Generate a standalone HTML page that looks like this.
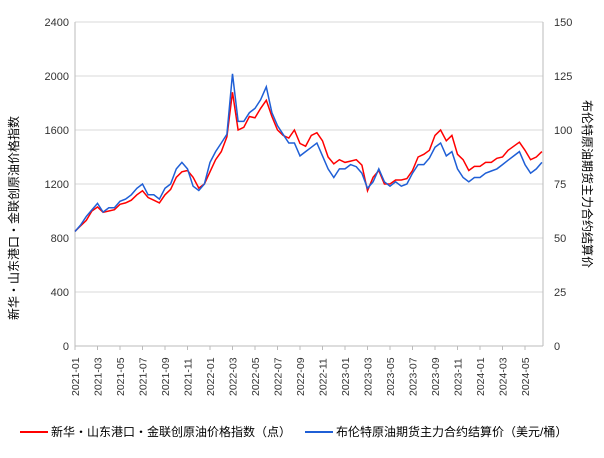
<!DOCTYPE html>
<html><head><meta charset="utf-8"><style>
body{margin:0;background:#fff;font-family:"Liberation Sans","Noto Sans CJK SC",sans-serif}
svg text{font-family:"Liberation Sans","Noto Sans CJK SC",sans-serif}
</style></head><body>
<svg id="c" width="604" height="453"></svg>
<script>
// semi-monthly points starting 2021-01
const indexValues=[850,890,930,1000,1030,990,1000,1010,1050,1060,1080,1120,1150,1100,1080,1060,1120,1160,1250,1290,1300,1250,1170,1200,1290,1380,1440,1550,1880,1600,1620,1700,1690,1760,1820,1700,1600,1560,1540,1600,1500,1480,1560,1580,1520,1400,1350,1380,1360,1370,1380,1340,1150,1250,1300,1200,1200,1230,1230,1240,1300,1400,1420,1450,1560,1600,1520,1560,1420,1380,1300,1330,1330,1360,1360,1390,1400,1450,1480,1510,1450,1380,1400,1440];
const brentValues=[53,56,60,63,66,62,64,64,67,68,70,73,75,70,70,68,73,75,82,85,82,74,72,75,85,90,94,98,126,104,104,108,110,114,120,108,102,98,94,94,88,90,92,94,88,82,78,82,82,84,83,80,73,76,82,76,74,76,74,75,80,84,84,87,92,94,88,90,82,78,76,78,78,80,81,82,84,86,88,90,84,80,82,85];
const xTicks=["2021-01","2021-03","2021-05","2021-07","2021-09","2021-11","2022-01","2022-03","2022-05","2022-07","2022-09","2022-11","2023-01","2023-03","2023-05","2023-07","2023-09","2023-11","2024-01","2024-03","2024-05"];
const leftTicks=[0,400,800,1200,1600,2000,2400];
const rightTicks=[0,25,50,75,100,125,150];
const L=75,R=543,T=22,B=346,PXM=11.25;
const svg=document.getElementById('c');const NS='http://www.w3.org/2000/svg';
function mk(t,a,p){const e=document.createElementNS(NS,t);for(const k in a)e.setAttribute(k,a[k]);(p||svg).appendChild(e);return e;}
const yL=v=>B-v/2400*(B-T), yR=v=>B-v/150*(B-T), xM=m=>L+m*PXM;
leftTicks.forEach((v,i)=>{
 const g=mk('line',{x1:L,x2:R,y1:yL(v),y2:yL(v),stroke:'#d9d9d9'});
 
 const t=mk('text',{x:L-6,y:yL(v)+4,'text-anchor':'end','font-size':11,fill:'#333'});t.textContent=v;
 
});
rightTicks.forEach(v=>{
 const t=mk('text',{x:R+11,y:yR(v)+4,'font-size':11,fill:'#333'});t.textContent=v;
 
});
mk('line',{x1:L,x2:L,y1:T,y2:B,stroke:'#bbb'});
mk('line',{x1:R,x2:R,y1:T,y2:B,stroke:'#bbb'});
mk('line',{x1:L,x2:R,y1:B,y2:B,stroke:'#bbb'});
xTicks.forEach((s,i)=>{
 const x=xM(i*2);
 mk('line',{x1:x,x2:x,y1:B,y2:B+4,stroke:'#bbb'});
 const t=mk('text',{transform:`translate(${x+4},${B+50}) rotate(-90)`,'font-size':10.5,fill:'#333'});t.textContent=s;
 
});
function line(vals,fy,col,name){
 const p=vals.map((v,i)=>(i?'L':'M')+xM(i/2).toFixed(1)+','+fy(v).toFixed(1)).join('');
 const e=mk('path',{d:p,fill:'none',stroke:col,'stroke-width':1.5});
 
}
line(indexValues,yL,'#ff0000','index-series-line');
line(brentValues,yR,'#1f5fd6','brent-series-line');
let t=mk('text',{transform:'translate(18,218) rotate(-90)','text-anchor':'middle','font-size':12,fill:'#000'});t.textContent='新华・山东港口・金联创原油价格指数';

t=mk('text',{transform:'translate(583,184) rotate(90)','text-anchor':'middle','font-size':12,fill:'#000'});t.textContent='布伦特原油期货主力合约结算价';

let g=mk('g',{});
mk('line',{x1:20,x2:48,y1:432,y2:432,stroke:'#ff0000','stroke-width':2},g);
t=mk('text',{x:51,y:436,'font-size':12,fill:'#000'},g);t.textContent='新华・山东港口・金联创原油价格指数（点）';
g=mk('g',{});
mk('line',{x1:305,x2:333,y1:432,y2:432,stroke:'#1f5fd6','stroke-width':2},g);
t=mk('text',{x:336,y:436,'font-size':12,fill:'#000'},g);t.textContent='布伦特原油期货主力合约结算价（美元/桶）';
</script>
</body></html>
